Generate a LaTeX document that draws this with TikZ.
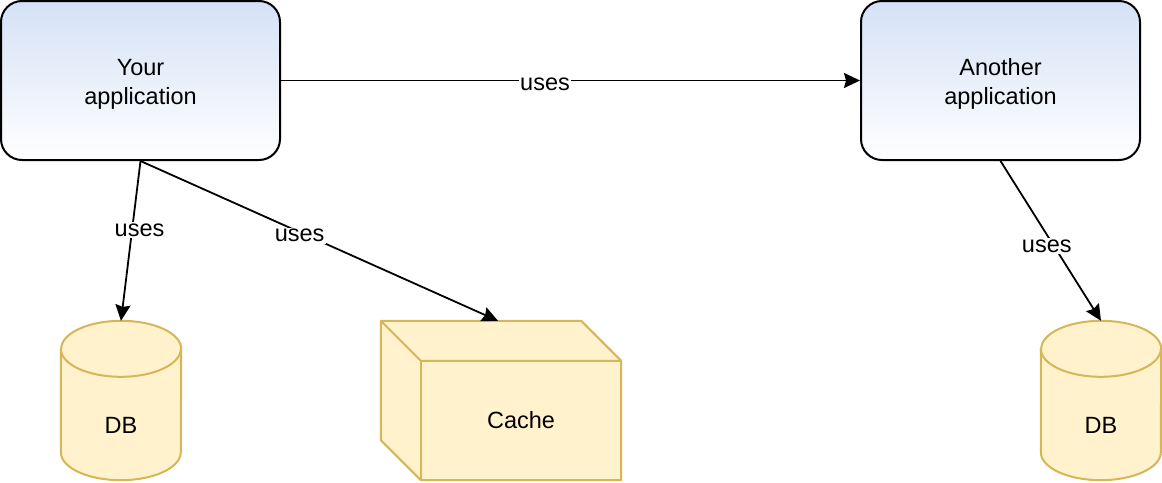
\documentclass[tikz,border=0pt]{standalone}
\usepackage{fontspec}
\setmainfont{Liberation Sans}
\usetikzlibrary{arrows.meta,calc,backgrounds}
\definecolor{appblue}{RGB}{212,225,245}
\definecolor{dbfill}{RGB}{255,242,204}
\definecolor{dbline}{RGB}{214,182,86}
\tikzset{
  x=1pt, y=-1pt,
  every node/.style={font=\fontsize{23.5}{29}\selectfont, text=black},
  appbox/.style={draw=black, line width=2pt, rounded corners=21pt,
    top color=appblue, bottom color=white, minimum width=279pt,
    minimum height=159pt, align=center, inner sep=0pt},
  dbnode/.style={draw=none, minimum width=120pt, minimum height=159pt, inner sep=0pt,
    text height=70pt, text depth=4pt},
  cubenode/.style={draw=none, minimum width=200pt, minimum height=119pt, inner sep=0pt},
  shapeline/.style={draw=dbline, fill=dbfill, line width=2pt, line join=round},
  conn/.style={draw=black, line width=1.8pt, -{Stealth[length=16pt,width=15pt,inset=2pt]}},
  lbl/.style={fill=white, inner sep=1.5pt, text=black, yshift=-3.5pt}
}
\begin{document}
\begin{tikzpicture}
\useasboundingbox (0,0) rectangle (1162,482);
% boxes
\node[appbox, label={[align=center, yshift=-3.5pt]center:Your\\application}] (app) at (140.5,80.5) {};
\node[appbox, label={[align=center, yshift=-3.5pt]center:Another\\application}] (other) at (1000.5,80.5) {};
% databases and cache (text nodes, shapes drawn behind)
\node[dbnode] (db1) at (121,400.5) {DB};
\node[dbnode] (db2) at (1101,400.5) {DB};
\node[cubenode] (cache) at (521,420.5) {Cache};
\coordinate (cachetop) at ($(cache.north)+(-23,-40)$);
\begin{pgfonlayer}{background}
  \foreach \d in {db1,db2}{
    \path[shapeline] ([yshift=-28pt]\d.north west) -- ([yshift=28pt]\d.south west)
      arc[start angle=180,end angle=360,x radius=60pt,y radius=28pt]
      -- ([yshift=-28pt]\d.north east)
      arc[start angle=0,end angle=180,x radius=60pt,y radius=28pt] -- cycle;
    \draw[shapeline, fill=none] ([yshift=-28pt]\d.north west)
      arc[start angle=180,end angle=360,x radius=60pt,y radius=28pt];
  }
  \path[shapeline] ($(cache.north west)+(-40,-40)$) -- ($(cache.north east)+(-40,-40)$)
    -- (cache.north east) -- (cache.south east) -- (cache.south west)
    -- ($(cache.south west)+(-40,-40)$) -- cycle;
  \draw[shapeline, fill=none] ($(cache.north west)+(-40,-40)$) -- (cache.north west)
    -- (cache.north east);
  \draw[shapeline, fill=none] (cache.north west) -- (cache.south west);
\end{pgfonlayer}
% connectors
\draw[conn] (app.east) -- node[lbl, pos=0.456] {uses} (other.west);
\draw[conn] (app.south) -- node[lbl, pos=0.41, xshift=7pt] {uses} (db1.north);
\draw[conn] (app.south) -- node[lbl, pos=0.445] {uses} (cachetop);
\draw[conn] (other.south) -- node[lbl, pos=0.51, xshift=-5pt] {uses} (db2.north);
\end{tikzpicture}
\end{document}
